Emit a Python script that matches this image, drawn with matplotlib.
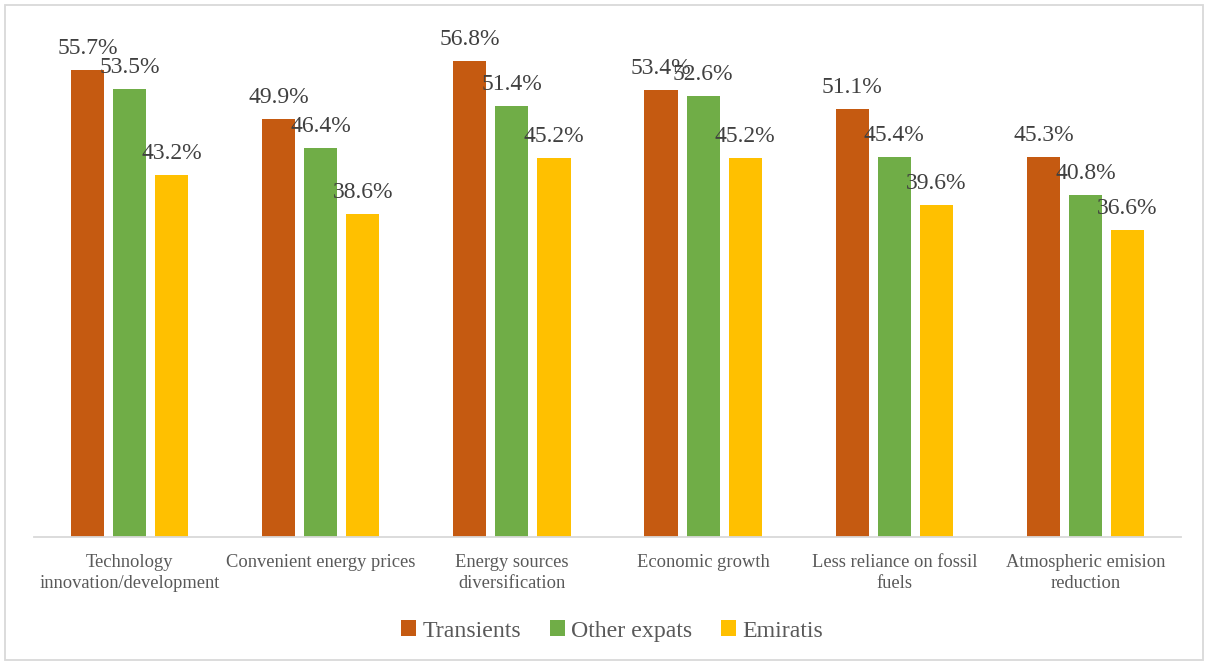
import numpy as np
import matplotlib.pyplot as plt
import matplotlib as mpl
from matplotlib.patches import Rectangle

mpl.rcParams['font.family'] = ['Liberation Serif', 'DejaVu Serif']

categories = ['Technology\ninnovation/development', 'Convenient energy prices',
              'Energy sources\ndiversification', 'Economic growth',
              'Less reliance on fossil\nfuels', 'Atmospheric emision\nreduction']
series = ['Transients', 'Other expats', 'Emiratis']
transients = [55.7, 49.9, 56.8, 53.4, 51.1, 45.3]
other_expats = [53.5, 46.4, 51.4, 52.6, 45.4, 40.8]
emiratis = [43.2, 38.6, 45.2, 45.2, 39.6, 36.6]
colors = ['#C55A11', '#70AD47', '#FFC000']

W, H = 1208, 664
fig = plt.figure(figsize=(W / 100, H / 100), dpi=100)
# axes: x 34..1181 px, baseline at y=537, top at y=20
ax = fig.add_axes([34 / W, (H - 537) / H, (1181 - 34) / W, (537 - 20) / H])

x = np.arange(len(categories))
width = 0.173
offset = 0.22
values = [transients, other_expats, emiratis]
for i, (name, vals, c) in enumerate(zip(series, values, colors)):
    pos = x + (i - 1) * offset
    bars = ax.bar(pos, vals, width, color=c, label=name, zorder=2)
    for b, v in zip(bars, vals):
        ax.text(b.get_x() + b.get_width() / 2, v + 1.3, f'{v:.1f}%',
                ha='center', va='bottom', fontsize=17, color='#404040')

ax.set_xlim(-0.5, len(categories) - 0.5)
ax.set_ylim(0, 517 / 8.38)
ax.set_xticks(x)
ax.set_xticklabels(categories, fontsize=13.3, color='#595959', linespacing=1.3)
ax.tick_params(axis='x', length=0, pad=12)
ax.set_yticks([])
for s in ['top', 'right', 'left']:
    ax.spines[s].set_visible(False)
ax.spines['bottom'].set_color('#D9D9D9')
ax.spines['bottom'].set_linewidth(1.3)

fig.legend(loc='center', bbox_to_anchor=(612 / W, (H - 631) / H), ncol=3,
           frameon=False, fontsize=17.2, handlelength=0.65, handleheight=0.65,
           handletextpad=0.25, columnspacing=1.2, labelcolor='#595959')

fig.patches.append(Rectangle((5 / W, 4 / H), (W - 10) / W, (H - 9) / H,
                             transform=fig.transFigure, fill=False,
                             edgecolor='#D9D9D9', linewidth=1.3))

fig.savefig('out.png', dpi=100)
